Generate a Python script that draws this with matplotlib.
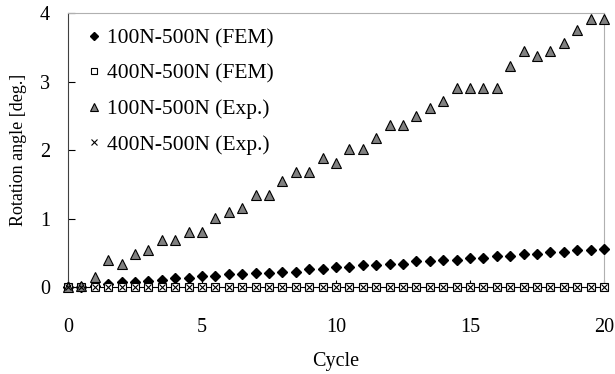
import matplotlib
matplotlib.use("Agg")
import matplotlib.pyplot as plt
import numpy as np

plt.rcParams['font.family'] = ['Liberation Serif', 'DejaVu Serif']
plt.rcParams['font.size'] = 14

cycle = np.arange(0, 20.5, 0.5)

# 100N-500N (FEM)
fem_100 = [0.0, 0.0, 0.02, 0.04, 0.07, 0.07, 0.09, 0.10, 0.13, 0.13,
           0.16, 0.16, 0.19, 0.19, 0.21, 0.21, 0.22, 0.22, 0.26, 0.26,
           0.29, 0.29, 0.32, 0.32, 0.34, 0.34, 0.38, 0.38, 0.40, 0.40,
           0.43, 0.43, 0.46, 0.46, 0.48, 0.48, 0.51, 0.51, 0.54, 0.54,
           0.55]
# 400N-500N (FEM)
fem_400 = [0.0] * 41
# 100N-500N (Exp.)
exp_100 = [0.0, 0.02, 0.14, 0.40, 0.34, 0.48, 0.54, 0.68, 0.68, 0.81,
           0.81, 1.01, 1.09, 1.15, 1.34, 1.34, 1.55, 1.68, 1.68, 1.89,
           1.81, 2.02, 2.02, 2.17, 2.36, 2.36, 2.49, 2.62, 2.71, 2.90,
           2.90, 2.90, 2.90, 3.23, 3.44, 3.37, 3.44, 3.57, 3.76, 3.91,
           3.91]
# 400N-500N (Exp.)
exp_400 = [0.0] * 41

fig = plt.figure(figsize=(6.15, 3.74), dpi=100)
ax = fig.add_axes([0.1106, 0.2326, 0.8714, 0.7324])

ax.plot(cycle, fem_100, 'D', color='black', markersize=5.5, label='100N-500N (FEM)', clip_on=False, zorder=3)
ax.plot(cycle, fem_400, 's', markerfacecolor='white', markeredgecolor='black', markersize=5.5,
        markeredgewidth=0.8, label='400N-500N (FEM)', clip_on=False, zorder=3)
ax.plot(cycle, exp_100, '^', markerfacecolor='#808080', markeredgecolor='black', markersize=7.5,
        markeredgewidth=0.8, label='100N-500N (Exp.)', clip_on=False, zorder=3)
ax.plot(cycle, exp_400, 'x', color='black', markersize=5, markeredgewidth=0.8,
        label='400N-500N (Exp.)', clip_on=False, zorder=4)

ax.set_xlim(0, 20)
ax.set_ylim(0, 4)
ax.set_xticks([0, 5, 10, 15, 20])
ax.set_yticks([0, 1, 2, 3, 4])
ax.tick_params(axis='x', direction='in', length=5, pad=22, labelsize=14.5)
ax.tick_params(axis='y', direction='in', length=5, pad=13, labelsize=14.5)

for side in ['top', 'right']:
    ax.spines[side].set_color('#b0b0b0')
ax.spines['left'].set_color('#404040')
ax.spines['bottom'].set_color('black')

ax.set_xlabel('Cycle', labelpad=11, fontsize=14.5)
ax.set_ylabel('Rotation angle [deg.]', labelpad=9, fontsize=13)

ax.legend(loc='upper left', frameon=False, handletextpad=0.1, handlelength=1.0,
          labelspacing=0.72, borderaxespad=0.3, fontsize=15.5, markerscale=0.75,
          bbox_to_anchor=(0.0, 1.0))

fig.savefig('out.png', dpi=100)
